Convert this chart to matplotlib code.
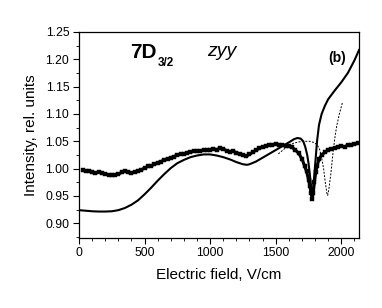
import matplotlib
matplotlib.use("Agg")
import matplotlib.pyplot as plt
from matplotlib.ticker import MultipleLocator, FormatStrFormatter

plt.rcParams['font.family'] = ['Liberation Sans', 'DejaVu Sans']

# Experimental data (squares)
exp_x = [30, 50, 75, 100, 125, 150, 175, 200, 225, 250, 275, 300, 325, 350, 375, 400,
         425, 450, 475, 500, 525, 550, 575, 600, 625, 650, 675, 700, 725, 750, 775, 800,
         825, 850, 875, 900, 925, 950, 975, 1000, 1025, 1050, 1075, 1100, 1125, 1150,
         1175, 1200, 1225, 1250, 1275, 1300, 1325, 1350, 1375, 1400, 1425, 1450, 1475,
         1500, 1525, 1550, 1575, 1600, 1625, 1650, 1675, 1700, 1720, 1735, 1750, 1760,
         1770, 1778, 1786, 1795, 1805, 1815, 1830, 1850, 1875, 1900, 1925, 1950, 1975,
         2000, 2025, 2050, 2075, 2100, 2125]
exp_y = [0.997, 0.995, 0.996, 0.993, 0.992, 0.994, 0.992, 0.990, 0.989, 0.988, 0.989,
         0.990, 0.993, 0.996, 0.993, 0.992, 0.994, 0.996, 0.998, 1.001, 1.004, 1.005,
         1.008, 1.011, 1.013, 1.016, 1.018, 1.020, 1.022, 1.025, 1.026, 1.027, 1.029,
         1.030, 1.032, 1.033, 1.032, 1.034, 1.035, 1.034, 1.036, 1.035, 1.037, 1.036,
         1.033, 1.031, 1.032, 1.029, 1.027, 1.025, 1.023, 1.026, 1.030, 1.034, 1.037,
         1.040, 1.041, 1.043, 1.044, 1.045, 1.044, 1.044, 1.042, 1.041, 1.039, 1.034,
         1.028, 1.018, 1.005, 0.995, 0.980, 0.968, 0.955, 0.945, 0.955, 0.975, 0.993,
         1.005, 1.017, 1.025, 1.030, 1.034, 1.036, 1.038, 1.040, 1.041, 1.040, 1.043,
         1.044, 1.045, 1.046]

# Theory (solid)
th1_x = [0, 50, 100, 150, 200, 250, 300, 350, 400, 450, 500, 550, 600, 650, 700, 750,
         800, 850, 900, 950, 1000, 1050, 1100, 1150, 1200, 1250, 1280, 1300, 1350, 1400,
         1450, 1500, 1550, 1600, 1640, 1665, 1690, 1710, 1725, 1740, 1750, 1760, 1770,
         1778, 1785, 1795, 1805, 1815, 1830, 1850, 1875, 1900, 1950, 2000, 2050, 2100, 2135]
th1_y = [0.924, 0.923, 0.922, 0.9215, 0.9215, 0.922, 0.924, 0.928, 0.934, 0.942, 0.953,
         0.965, 0.978, 0.990, 1.001, 1.010, 1.016, 1.021, 1.024, 1.026, 1.026, 1.024,
         1.021, 1.017, 1.012, 1.008, 1.007, 1.008, 1.013, 1.020, 1.027, 1.034, 1.041,
         1.048, 1.054, 1.056, 1.055, 1.050, 1.040, 1.025, 1.010, 0.990, 0.965, 0.950,
         0.960, 0.990, 1.020, 1.050, 1.080, 1.100, 1.115, 1.127, 1.143, 1.158, 1.175,
         1.198, 1.217]

# Theory (dotted)
th2_x = [1520, 1560, 1600, 1640, 1680, 1720, 1760, 1790, 1815, 1835, 1850, 1865, 1878,
         1890, 1896, 1905, 1920, 1935, 1950, 1965, 1985, 2010]
th2_y = [1.027, 1.035, 1.042, 1.047, 1.049, 1.050, 1.050, 1.048, 1.044, 1.035, 1.020,
         1.000, 0.975, 0.955, 0.951, 0.962, 0.990, 1.025, 1.055, 1.078, 1.100, 1.122]

fig = plt.figure(figsize=(3.82, 3.08), dpi=100)
ax = fig.add_axes([79/382, 1-237.5/308, 280/382, 205.5/308])

ax.plot(exp_x, exp_y, color='black', lw=2.2, marker='s', ms=3.0, mec='black', mew=0.3)
ax.plot(th1_x, th1_y, color='black', lw=1.5)
ax.plot(th2_x, th2_y, color='black', lw=0.7, linestyle=(0, (2, 1.5)))

ax.set_xlim(0, 2135)
ax.set_ylim(0.874, 1.25)
ax.xaxis.set_major_locator(MultipleLocator(500))
ax.xaxis.set_minor_locator(MultipleLocator(100))
ax.yaxis.set_major_locator(MultipleLocator(0.05))
ax.yaxis.set_minor_locator(MultipleLocator(0.025))
ax.yaxis.set_major_formatter(FormatStrFormatter('%.2f'))
ax.tick_params(which='major', direction='out', length=4, width=0.8, labelsize=8.8, pad=3)
ax.tick_params(which='minor', direction='out', length=2, width=0.6)
ax.tick_params(top=False, right=False, which='both')
for s in ax.spines.values():
    s.set_linewidth(0.9)

ax.set_xlabel('Electric field, V/cm', fontsize=11, labelpad=6)
ax.set_ylabel('Intensity, rel. units', fontsize=11, labelpad=5)

ax.text(130/382, 1-58/308, '7D', transform=fig.transFigure, fontsize=15, fontweight='bold')
ax.text(158/382, 1-66/308, '3/2', transform=fig.transFigure, fontsize=8.5, fontweight='bold')
ax.text(207/382, 1-56/308, 'zyy', transform=fig.transFigure, fontsize=14, style='italic')
ax.text(328/382, 1-62/308, '(b)', transform=fig.transFigure, fontsize=10, fontweight='bold')

fig.savefig('out.png', dpi=100)
